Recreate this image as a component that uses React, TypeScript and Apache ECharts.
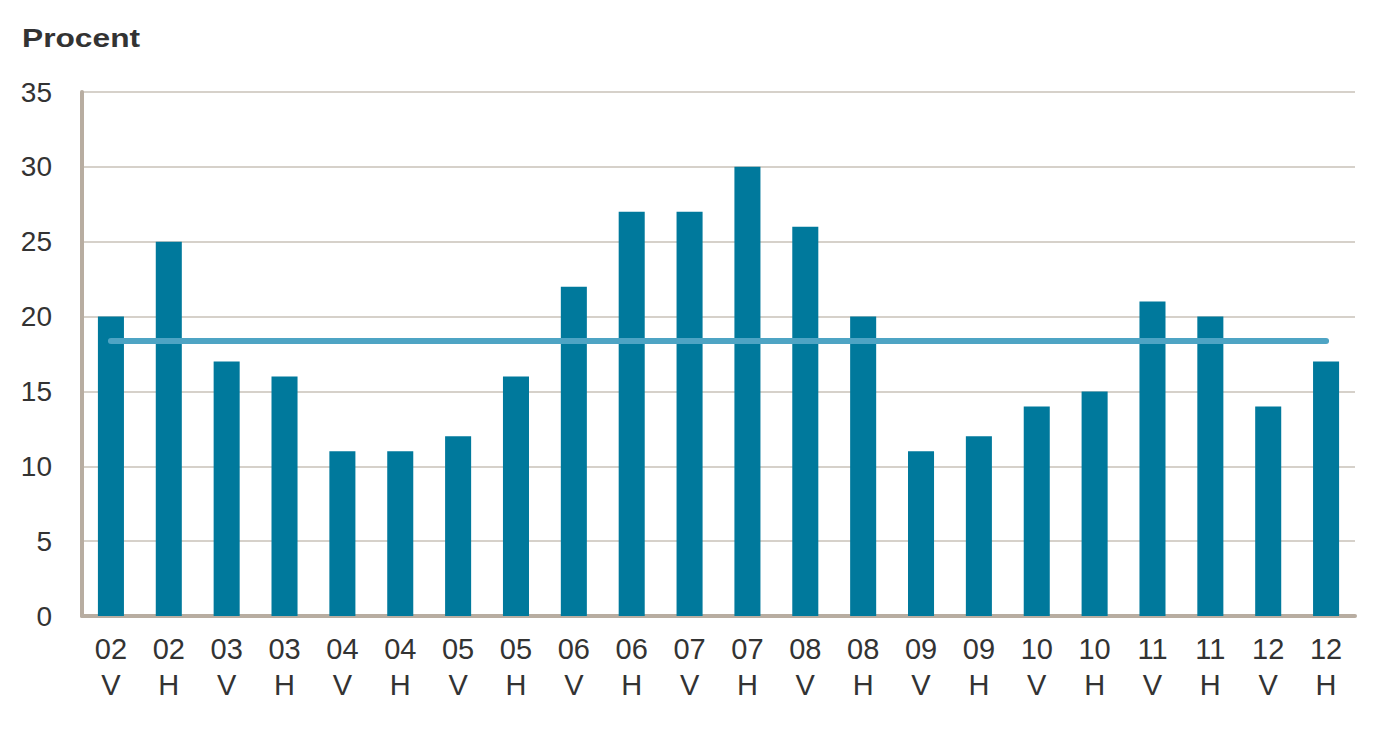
import React, { useEffect, useRef } from "react";
import * as echarts from "echarts";

const categories = ["02\nV","02\nH","03\nV","03\nH","04\nV","04\nH","05\nV","05\nH","06\nV","06\nH","07\nV","07\nH","08\nV","08\nH","09\nV","09\nH","10\nV","10\nH","11\nV","11\nH","12\nV","12\nH"];
const values = [20,25,17,16,11,11,12,16,22,27,27,30,26,20,11,12,14,15,21,20,14,17];
const averageValue = 18.4;
const yTicks = { min: 0, max: 35, interval: 5 };

export default function App() {
  const ref = useRef<HTMLDivElement>(null);
  useEffect(() => {
    const chart = echarts.init(ref.current!, null, { renderer: "svg" });
    chart.setOption({
      animation: false,
      graphic: [
        { type: "text", x: 22, y: 25, scaleX: 1.22, style: { text: "Procent", font: "bold 26px 'Liberation Sans', Arial, sans-serif", fill: "#333" } },
      ],
      grid: { left: 82, right: 35, top: 92, bottom: 137, containLabel: false },
      xAxis: {
        type: "category",
        data: categories,
        axisLine: { show: true, lineStyle: { color: "#b8ada1", width: 4 } },
        axisTick: { show: false },
        axisLabel: { color: "#333", fontSize: 29, lineHeight: 36, margin: 15, fontFamily: "'Liberation Sans', Arial, sans-serif", interval: 0 },
      },
      yAxis: {
        type: "value",
        min: yTicks.min, max: yTicks.max, interval: yTicks.interval,
        axisLine: { show: true, lineStyle: { color: "#b8ada1", width: 4 } },
        axisTick: { show: false },
        splitLine: { lineStyle: { color: "#c9c2b8", width: 1.5 } },
        axisLabel: { color: "#333", fontSize: 28, margin: 30, fontFamily: "'Liberation Sans', Arial, sans-serif" },
      },
      series: [
        {
          type: "bar",
          data: values,
          barWidth: "45%",
          itemStyle: { color: "#00799c" },
          markLine: {
            silent: true,
            symbol: "none",
            label: { show: false },
            lineStyle: { color: "#4ea4c4", width: 6, type: "solid", cap: "round" },
            data: [[{ coord: [0, averageValue] }, { coord: [categories.length - 1, averageValue] }]],
          },
        },
      ],
    });
    return () => chart.dispose();
  }, []);
  return <div ref={ref} style={{ width: 1390, height: 753, position: "absolute", left: 0, top: 0 }} />;
}
